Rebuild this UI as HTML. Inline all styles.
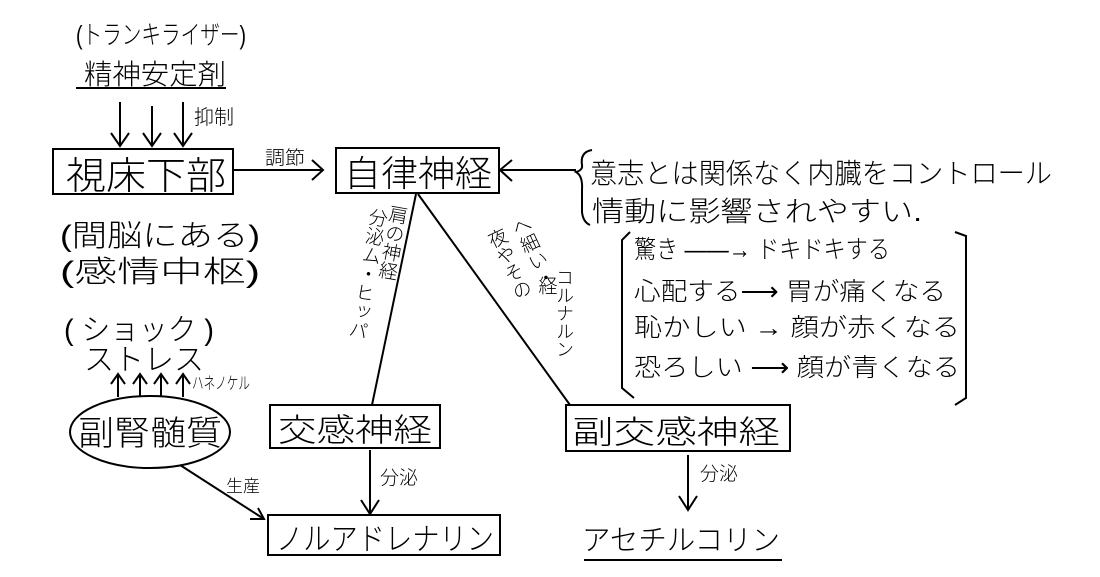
<!DOCTYPE html>
<html><head><meta charset="utf-8"><style>
html,body{margin:0;padding:0;background:#fff;}
svg{display:block;}
text{font-family:"Liberation Sans","Noto Sans CJK JP",sans-serif;fill:#000;font-weight:300;}
</style></head><body>
<svg width="1100" height="577" viewBox="0 0 1100 577" xmlns="http://www.w3.org/2000/svg">
<g stroke="#000" stroke-width="2" fill="none">
<line x1="76" y1="88" x2="226" y2="88"/>
<line x1="120" y1="102" x2="120" y2="146"/><polyline points="111,133 120,146 129,133"/>
<line x1="152" y1="106" x2="152" y2="146"/><polyline points="143,133 152,146 161,133"/>
<line x1="183" y1="102" x2="183" y2="146"/><polyline points="174,133 183,146 192,133"/>
<rect x="53" y="149" width="180" height="45"/>
<rect x="336" y="148" width="163" height="45"/>
<rect x="270" y="405" width="170" height="43"/>
<rect x="566" y="405" width="224" height="46"/>
<rect x="268" y="515" width="232" height="40"/>
<line x1="233" y1="170" x2="322" y2="170"/><polyline points="312,160 323,170 312,180"/>
<line x1="500" y1="170" x2="576" y2="170"/><polyline points="512,160 500,170 512,181"/>
<path d="M592,150 Q580,152 582,165 Q583,170 576,172 Q583,176 582,190 L582,212 Q583,222 590,225"/>
<path d="M630,232 L622,240 L622,388 L634,398"/>
<path d="M955,232 L966,236 L966,398 L955,405"/>
<line x1="416" y1="194" x2="372" y2="405"/>
<line x1="418" y1="194" x2="570" y2="405"/>
<ellipse cx="150" cy="432" rx="80" ry="36"/>
<line x1="118" y1="397" x2="118" y2="376"/><polyline points="111,384 118,374 125,384"/>
<line x1="140" y1="396" x2="140" y2="376"/><polyline points="133,384 140,374 147,384"/>
<line x1="161" y1="396" x2="161" y2="376"/><polyline points="154,384 161,374 168,384"/>
<line x1="183" y1="397" x2="183" y2="376"/><polyline points="176,384 183,374 190,384"/>
<line x1="370" y1="450" x2="370" y2="514"/><polyline points="361,500 370,514 379,500"/>
<line x1="688" y1="455" x2="688" y2="510"/><polyline points="679,496 688,510 697,496"/>
<line x1="180" y1="465" x2="264" y2="519"/><polyline points="250,519 264,519 258,508"/>
<line x1="584" y1="560" x2="782" y2="560"/>
</g>
<text x="76" y="44" font-size="26" textLength="170" lengthAdjust="spacingAndGlyphs">(トランキライザー)</text>
<text x="84" y="84" font-size="28" textLength="142" lengthAdjust="spacingAndGlyphs">精神安定剤</text>
<text x="194" y="124" font-size="20">抑制</text>
<text x="265" y="164" font-size="19" textLength="40" lengthAdjust="spacingAndGlyphs">調節</text>
<text x="66" y="189" font-size="38" textLength="160" lengthAdjust="spacingAndGlyphs">視床下部</text>
<text x="344" y="186" font-size="36" textLength="148" lengthAdjust="spacingAndGlyphs">自律神経</text>
<text x="60" y="246" font-size="30" textLength="200" lengthAdjust="spacingAndGlyphs">(間脳にある)</text>
<text x="60" y="282" font-size="30" textLength="200" lengthAdjust="spacingAndGlyphs">(感情中枢)</text>
<text x="590" y="183" font-size="28" textLength="462" lengthAdjust="spacingAndGlyphs">意志とは関係なく内臓をコントロール</text>
<text x="592" y="221" font-size="28" textLength="330" lengthAdjust="spacingAndGlyphs">情動に影響されやすい.</text>
<g font-size="25">
<text x="634" y="258" textLength="256" lengthAdjust="spacingAndGlyphs">驚き ——→ ドキドキする</text>
<text x="634" y="300" textLength="312" lengthAdjust="spacingAndGlyphs">心配する⟶ 胃が痛くなる</text>
<text x="634" y="336" textLength="326" lengthAdjust="spacingAndGlyphs">恥かしい → 顔が赤くなる</text>
<text x="634" y="376" textLength="326" lengthAdjust="spacingAndGlyphs">恐ろしい ⟶ 顔が青くなる</text>
</g>
<text x="64" y="340" font-size="30" textLength="150" lengthAdjust="spacingAndGlyphs">( ショック )</text>
<text x="84" y="370" font-size="30" textLength="120" lengthAdjust="spacingAndGlyphs">ストレス</text>
<text x="192" y="389" font-size="17" textLength="58" lengthAdjust="spacingAndGlyphs">ハネノケル</text>
<text x="78" y="445" font-size="34" textLength="144" lengthAdjust="spacingAndGlyphs">副腎髄質</text>
<text x="278" y="441" font-size="32" textLength="154" lengthAdjust="spacingAndGlyphs">交感神経</text>
<text x="572" y="443" font-size="32" textLength="208" lengthAdjust="spacingAndGlyphs">副交感神経</text>
<text x="380" y="484" font-size="19">分泌</text>
<text x="700" y="480" font-size="19">分泌</text>
<text x="226" y="492" font-size="17">生産</text>
<text x="276" y="550" font-size="31" textLength="218" lengthAdjust="spacingAndGlyphs">ノルアドレナリン</text>
<text x="582" y="550" font-size="29" textLength="198" lengthAdjust="spacingAndGlyphs">アセチルコリン</text>
<g font-size="19" writing-mode="tb">
<text x="378" y="208" transform="rotate(10 378 208)">分泌ム・ヒッパ</text>
<text x="398" y="205" transform="rotate(10 398 205)">肩の神経</text>
<text x="492" y="230" transform="rotate(-25 492 230)">夜やその</text>
<text x="516" y="218" transform="rotate(-25 516 218)">へ細い・</text>
<text x="546" y="276">経</text>
<text x="564" y="268" font-size="18">コルナルン</text>
</g>
</svg>
</body></html>
